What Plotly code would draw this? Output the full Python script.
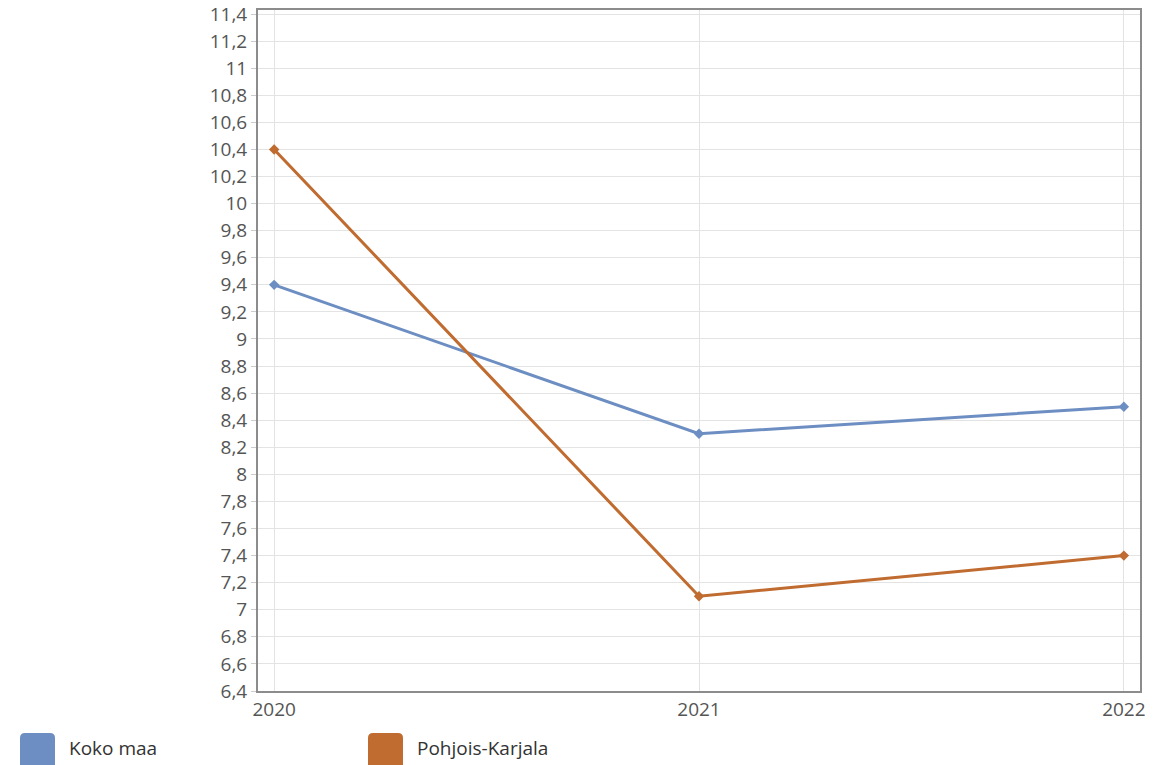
import plotly.graph_objects as go

years = [2020, 2021, 2022]
koko_maa = [9.4, 8.3, 8.5]
pohjois_karjala = [10.4, 7.1, 7.4]

series_names = ["Koko maa", "Pohjois-Karjala"]
colors = ["#6d8ec2", "#c06b2f"]

# page offset from the default body margin of the html page
OFF = 8
W, H = 1175 - OFF, 765 - OFF
L, R, T, B = 258 - OFF, 35, 10 - OFF, 74
PW, PH = W - L - R, H - T - B


def px_x(x):
    # page pixel -> paper x
    return (x - OFF - L) / PW


def px_y(y):
    # page pixel -> paper y
    return (T + PH - (y - OFF)) / PH


def rounded_rect(x0, y0, x1, y1, r):
    # rounded rectangle path in paper coords, corners given in page px
    pts = [
        f"M {px_x(x0 + r)},{px_y(y0)}",
        f"L {px_x(x1 - r)},{px_y(y0)}",
        f"Q {px_x(x1)},{px_y(y0)} {px_x(x1)},{px_y(y0 + r)}",
        f"L {px_x(x1)},{px_y(y1 - r)}",
        f"Q {px_x(x1)},{px_y(y1)} {px_x(x1 - r)},{px_y(y1)}",
        f"L {px_x(x0 + r)},{px_y(y1)}",
        f"Q {px_x(x0)},{px_y(y1)} {px_x(x0)},{px_y(y1 - r)}",
        f"L {px_x(x0)},{px_y(y0 + r)}",
        f"Q {px_x(x0)},{px_y(y0)} {px_x(x0 + r)},{px_y(y0)}",
        "Z",
    ]
    return " ".join(pts)


fig = go.Figure()

for name, values, color in zip(series_names, [koko_maa, pohjois_karjala], colors):
    fig.add_trace(go.Scatter(
        x=years, y=values, name=name,
        mode="lines+markers",
        line=dict(color=color, width=3),
        marker=dict(symbol="diamond", size=8, color=color),
        showlegend=False,
    ))

# custom legend: big rounded swatches under the plot
legend_x = [20, 368]
for lx, name, color in zip(legend_x, series_names, colors):
    fig.add_shape(type="path", xref="paper", yref="paper",
                  path=rounded_rect(lx, 733, lx + 35, 780, 5),
                  fillcolor=color, line=dict(width=0))
    fig.add_annotation(xref="paper", yref="paper",
                       x=px_x(lx + 47), y=px_y(748),
                       text=name, showarrow=False, xanchor="left", yanchor="middle",
                       font=dict(size=19, color="#333333"))

fig.update_layout(
    width=W, height=H,
    margin=dict(l=L, r=R, t=T, b=B, autoexpand=False),
    paper_bgcolor="white", plot_bgcolor="white",
    separators=", ",
    font=dict(family="Open Sans, Noto Sans, sans-serif", size=19, color="#555555"),
    xaxis=dict(
        range=[2019.962, 2022.038],
        tickmode="array", tickvals=years, ticktext=[str(y) for y in years],
        showgrid=True, gridcolor="#e3e3e3", gridwidth=1,
        showline=True, linecolor="#8c8c8c", linewidth=2, mirror=True,
        zeroline=False, ticks="", fixedrange=True, automargin=False,
    ),
    yaxis=dict(
        range=[6.4, 11.43],
        tick0=6.4, dtick=0.2,
        showgrid=True, gridcolor="#e3e3e3", gridwidth=1,
        showline=True, linecolor="#8c8c8c", linewidth=2, mirror=True,
        zeroline=False, ticks="outside", ticklen=5, tickcolor="#cccccc",
        ticklabeloverflow="allow", automargin=False,
        fixedrange=True,
    ),
)

fig.write_html("out.html")
